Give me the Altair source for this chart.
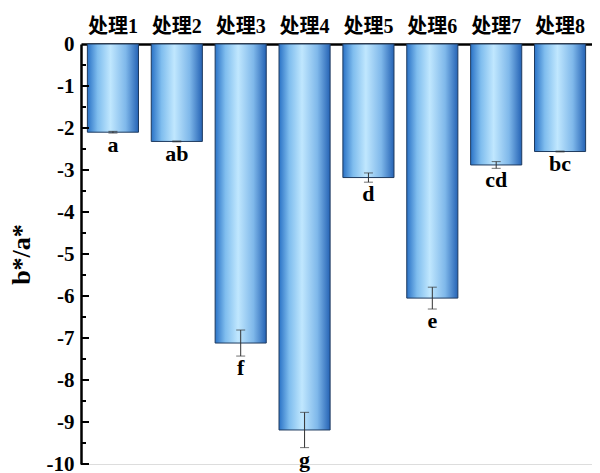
import altair as alt
import pandas as pd

categories = ["处理1", "处理2", "处理3", "处理4", "处理5", "处理6", "处理7", "处理8"]
values = [-2.10, -2.32, -7.12, -9.19, -3.18, -6.05, -2.88, -2.56]
errors = [0.02, 0.01, 0.31, 0.42, 0.11, 0.26, 0.08, 0.01]
letters = ["a", "ab", "f", "g", "d", "e", "cd", "bc"]
major_ticks = [-10, -9, -8, -7, -6, -5, -4, -3, -2, -1]
minor_ticks = [-9.5, -8.5, -7.5, -6.5, -5.5, -4.5, -3.5, -2.5, -1.5, -0.5]
y_labels = [0, -1, -2, -3, -4, -5, -6, -7, -8, -9, -10]

FONT = "Liberation Serif, Noto Sans CJK SC"

df = pd.DataFrame({"cat": categories, "v": values, "e": errors, "lab": letters})
df["lo"] = df["v"] - df["e"]
df["hi"] = df["v"] + df["e"]

xenc = alt.X("cat:N", sort=categories, title=None,
             scale=alt.Scale(paddingInner=0.2, paddingOuter=0.1),
             axis=alt.Axis(orient="top", ticks=False, labelAngle=0, labelFont=FONT,
                           labelFontSize=20, labelFontWeight="bold", labelColor="black",
                           labelPadding=8, domainColor="black", domainWidth=2.5))
yscale = alt.Scale(domain=[-10, 0], nice=False, zero=False)

bars = alt.Chart(df).mark_bar(
    color=alt.Gradient(gradient="linear", x1=0, x2=1, y1=0, y2=0,
                       stops=[alt.GradientStop(color="#2a72c6", offset=0),
                              alt.GradientStop(color="#7fbdee", offset=0.2),
                              alt.GradientStop(color="#c0e7fe", offset=0.45),
                              alt.GradientStop(color="#7fb8ea", offset=0.75),
                              alt.GradientStop(color="#2563b5", offset=1)]),
    stroke="#1e3a5f", strokeWidth=1
).encode(
    x=xenc,
    y=alt.Y("v:Q", scale=yscale, title="b*/a*",
            axis=alt.Axis(values=y_labels, ticks=False, grid=False, labelExpr="toString(datum.value)",
                          labelFont=FONT, labelFontSize=21, labelFontWeight="bold",
                          labelColor="black", labelPadding=7, domainColor="black",
                          domainWidth=2.5, titleFont=FONT, titleFontSize=26,
                          titleFontWeight="bold", titleColor="black", titlePadding=12)),
    y2=alt.datum(0),
)

err = alt.Chart(df).mark_rule(color="#333333", strokeWidth=1).encode(
    x=alt.X("cat:N", sort=categories), y=alt.Y("lo:Q", scale=yscale), y2="hi:Q")
cap_lo = alt.Chart(df).mark_tick(color="#333333", thickness=1, size=9).encode(
    x=alt.X("cat:N", sort=categories), y=alt.Y("lo:Q", scale=yscale))
cap_hi = alt.Chart(df).mark_tick(color="#333333", thickness=1, size=9).encode(
    x=alt.X("cat:N", sort=categories), y=alt.Y("hi:Q", scale=yscale))

text = alt.Chart(df).mark_text(font=FONT, fontSize=22, fontWeight="bold", color="black",
                               baseline="alphabetic", dy=19).encode(
    x=alt.X("cat:N", sort=categories), y=alt.Y("lo:Q", scale=yscale), text="lab:N")

maj = alt.Chart(pd.DataFrame({"t": major_ticks})).mark_rule(color="black", strokeWidth=2).encode(
    y=alt.Y("t:Q", scale=yscale), x=alt.value(0), x2=alt.value(8))
mnr = alt.Chart(pd.DataFrame({"t": minor_ticks})).mark_rule(color="black", strokeWidth=2).encode(
    y=alt.Y("t:Q", scale=yscale), x=alt.value(0), x2=alt.value(5))

chart = alt.layer(bars, err, cap_lo, cap_hi, text, maj, mnr).properties(
    width=511, height=420,
    autosize=alt.AutoSizeParams(type="none"),
    padding={"left": 73, "top": 36, "right": 0, "bottom": 14},
).configure_view(stroke=None).configure(background="white")

chart.save("out.html", embed_options={"renderer": "svg", "actions": False})
